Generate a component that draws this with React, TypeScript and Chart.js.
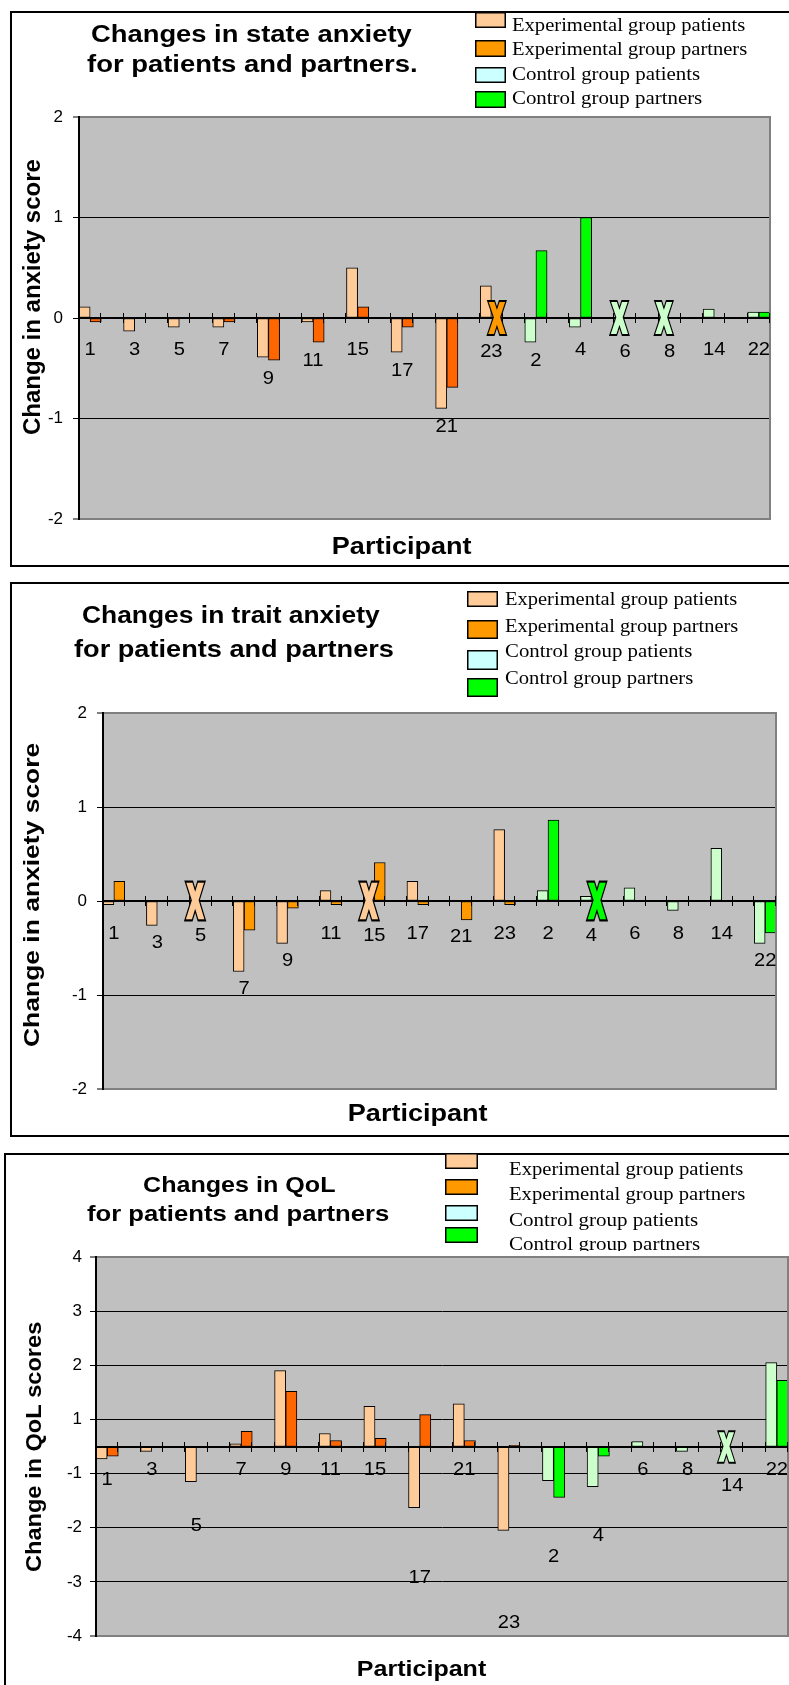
import React, { useEffect, useRef } from "react";
import { Chart, registerables } from "chart.js";

Chart.register(...registerables);

// ---------------- data ----------------
const participants = ["1", "3", "5", "7", "9", "11", "15", "17", "21", "23", "2", "4", "6", "8", "14", "22"];
const participantGroups = [
  "experimental", "experimental", "experimental", "experimental", "experimental",
  "experimental", "experimental", "experimental", "experimental", "experimental",
  "control", "control", "control", "control", "control", "control",
];
const seriesNames = [
  "Experimental group patients",
  "Experimental group partners",
  "Control group patients",
  "Control group partners",
];

// State anxiety
const stateTickValues = [-2, -1, 0, 1, 2];
const stateTickLabels = ["-2", "-1", "0", "1", "2"];
const statePatients = [0.11, -0.13, -0.09, -0.09, -0.39, -0.04, 0.5, -0.34, -0.9, 0.32, -0.24, -0.09, null, null, 0.09, 0.06];
const statePartners = [-0.04, null, null, -0.04, -0.42, -0.24, 0.11, -0.09, -0.69, null, 0.67, 1.0, null, null, null, 0.06];
const stateMissingPatients = ["6", "8"];
const stateMissingPartners = ["23"];

// Trait anxiety
const traitTickValues = [-2, -1, 0, 1, 2];
const traitTickLabels = ["-2", "-1", "0", "1", "2"];
const traitPatients = [-0.04, -0.26, null, -0.75, -0.45, 0.11, null, 0.21, null, 0.76, 0.11, 0.05, 0.14, -0.1, 0.56, -0.45];
const traitPartners = [0.21, null, null, -0.31, -0.075, -0.04, 0.41, -0.04, -0.2, -0.04, 0.86, null, null, null, null, -0.34];
const traitMissingPatients = ["5", "15"];
const traitMissingPartners = ["4"];

// Quality of life
const qolTickValues = [-3.5, -2.5, -1.5, -0.5, 0.5, 1.5, 2.5, 3.5];
const qolTickLabels = ["-4", "-3", "-2", "-1", "1", "2", "3", "4"];
const qolPatients = [-0.23, -0.09, -0.65, 0.05, 1.4, 0.24, 0.74, -1.13, 0.79, -1.55, -0.63, -0.74, 0.09, -0.09, null, 1.55];
const qolPartners = [-0.18, null, null, 0.28, 1.02, 0.11, 0.15, 0.59, 0.11, 0.02, -0.94, -0.18, null, null, null, 1.22];
const qolMissingPatients = ["14"];
const qolMissingPartners: string[] = [];

// ---------------- helpers ----------------
const PAGE_W = 789;
const PAGE_H = 1685;
const Y_AXIS_W = 60;
const SANS = '"Liberation Sans", Arial, sans-serif';
const SERIF = '"Liberation Serif", "Times New Roman", serif';
const LEGEND_FONT = `18.5px ${SERIF}`;
const LABEL_FONT = `18px ${SANS}`;
const LABEL_STRETCH = 1.12;

const COLORS = {
  expPatients: "#FFCC99",
  expPartnersLegend: "#FF9900",
  ctrlPatientsBar: "#CCFFCC",
  ctrlPatientsLegend: "#CCFFFF",
  ctrlPartners: "#00FF00",
  plotBg: "#C0C0C0",
  plotEdge: "#808080",
};
const legendColors = [COLORS.expPatients, COLORS.expPartnersLegend, COLORS.ctrlPatientsLegend, COLORS.ctrlPartners];

const categories: string[] = [];
participants.forEach((p, i) => {
  categories.push(p);
  if (i < participants.length - 1) categories.push("");
});

function seriesFor(values: (number | null)[], group: string) {
  const out: (number | null)[] = categories.map(() => null);
  values.forEach((v, i) => {
    if (participantGroups[i] === group) out[2 * i] = v;
  });
  return out;
}

type TextLine = { text: string; x1: number; x2: number; baseline: number };
type PanelSpec = {
  canvasTop: number;
  canvasHeight: number;
  box: { left: number; top: number; bottom: number | null };
  plot: { left: number; right: number; top: number; bottom: number };
  tickPadding: number;
  min: number;
  max: number;
  tickValues: number[];
  tickLabels: string[];
  patients: (number | null)[];
  partners: (number | null)[];
  missingPatients: string[];
  missingPartners: string[];
  partnerBarColor: string;
  title: { font: string; lines: TextLine[] };
  legend: {
    swatchX: number;
    swatchW: number;
    swatches: [number, number][];
    textX: number;
    ends: number[];
    baselines: number[];
    clipBottom?: number;
  };
  yTitle: { text: string; font: string; baselineX: number; cy: number; length: number };
  xTitle: { font: string; line: TextLine };
  labels: { zeroGap: number; factor: number; barGap: number };
  mark: { height: number; width: number };
};

function fitText(ctx: CanvasRenderingContext2D, text: string, font: string, x1: number, x2: number, baseline: number) {
  ctx.save();
  ctx.font = font;
  ctx.textAlign = "left";
  ctx.textBaseline = "alphabetic";
  ctx.fillStyle = "#000";
  const m = ctx.measureText(text);
  const inkW = m.actualBoundingBoxLeft + m.actualBoundingBoxRight;
  const sx = (x2 - x1) / inkW;
  ctx.translate(x1 + m.actualBoundingBoxLeft * sx, baseline);
  ctx.scale(sx, 1);
  ctx.fillText(text, 0, 0);
  ctx.restore();
}

function verticalText(ctx: CanvasRenderingContext2D, text: string, font: string, baselineX: number, cy: number, length: number) {
  ctx.save();
  ctx.font = font;
  ctx.textAlign = "left";
  ctx.textBaseline = "alphabetic";
  ctx.fillStyle = "#000";
  const m = ctx.measureText(text);
  const inkW = m.actualBoundingBoxLeft + m.actualBoundingBoxRight;
  const sx = length / inkW;
  ctx.translate(baselineX, cy);
  ctx.rotate(-Math.PI / 2);
  ctx.scale(sx, 1);
  ctx.fillText(text, (m.actualBoundingBoxLeft - m.actualBoundingBoxRight) / 2, 0);
  ctx.restore();
}

function drawMark(ctx: CanvasRenderingContext2D, cx: number, cy: number, w: number, h: number, color: string) {
  ctx.save();
  ctx.font = `bold 40px ${SANS}`;
  ctx.textAlign = "left";
  ctx.textBaseline = "alphabetic";
  const m = ctx.measureText("X");
  const inkW = m.actualBoundingBoxLeft + m.actualBoundingBoxRight;
  const inkH = m.actualBoundingBoxAscent + m.actualBoundingBoxDescent;
  const sx = (w - 4) / inkW;
  const sy = (h - 3) / inkH;
  ctx.translate(cx, cy);
  ctx.scale(sx, sy);
  const ox = (m.actualBoundingBoxLeft - m.actualBoundingBoxRight) / 2;
  const oy = (m.actualBoundingBoxAscent - m.actualBoundingBoxDescent) / 2;
  ctx.lineJoin = "miter";
  ctx.strokeStyle = "#000";
  ctx.lineWidth = 8;
  ctx.strokeText("X", ox, oy);
  ctx.strokeStyle = color;
  ctx.lineWidth = 4;
  ctx.strokeText("X", ox, oy);
  ctx.fillStyle = color;
  ctx.fillText("X", ox, oy);
  ctx.restore();
}

function makeDecorPlugin(spec: PanelSpec) {
  const T = spec.canvasTop;
  return {
    id: "panelDecor",
    beforeDraw(chart: any) {
      const { ctx, chartArea: a } = chart;
      ctx.save();
      ctx.fillStyle = "#fff";
      ctx.fillRect(0, 0, chart.width, chart.height);
      ctx.fillStyle = COLORS.plotBg;
      ctx.fillRect(a.left, a.top, a.right - a.left, a.bottom - a.top);
      ctx.restore();
    },
    afterDatasetsDraw(chart: any) {
      const { ctx, chartArea: a } = chart;
      const x = chart.scales.x;
      const y = chart.scales.y;
      ctx.save();
      // plot frame
      ctx.fillStyle = COLORS.plotEdge;
      ctx.fillRect(a.left, a.top - 1, a.right - a.left + 1, 2);
      ctx.fillRect(a.right - 1, a.top - 1, 2, a.bottom - a.top + 2);
      ctx.fillRect(a.left, a.bottom - 1, a.right - a.left + 1, 2);
      ctx.fillStyle = "#000";
      ctx.fillRect(a.left - 1, a.top - 1, 2, a.bottom - a.top + 2);
      // category axis at zero
      const z = Math.round(y.getPixelForValue(0));
      ctx.fillRect(a.left, z - 1, a.right - a.left, 2);
      const catW = (a.right - a.left) / categories.length;
      for (let k = 0; k <= categories.length; k++) {
        const xx = Math.round(a.left + k * catW);
        ctx.fillRect(xx - 1, z - 5, 1, 10);
      }
      // missing-value markers
      const marks: { p: string; slot: number }[] = [
        ...spec.missingPatients.map((p) => ({ p, slot: 0 })),
        ...spec.missingPartners.map((p) => ({ p, slot: 1 })),
      ];
      marks.forEach(({ p, slot }) => {
        const i = participants.indexOf(p);
        const exp = participantGroups[i] === "experimental";
        const color = exp
          ? slot === 0 ? COLORS.expPatients : COLORS.expPartnersLegend
          : slot === 0 ? COLORS.ctrlPatientsBar : COLORS.ctrlPartners;
        const cx = x.getPixelForValue(2 * i) + (slot === 0 ? -catW / 4 : catW / 4);
        drawMark(ctx, cx, z, spec.mark.width, spec.mark.height, color);
      });
      // participant labels
      ctx.font = LABEL_FONT;
      const capH = ctx.measureText("0").actualBoundingBoxAscent;
      participants.forEach((p, i) => {
        const vals = [spec.patients[i], spec.partners[i]].filter((v) => v !== null) as number[];
        const minV = Math.min(0, ...vals);
        let depth = y.getPixelForValue(minV) - z;
        if (spec.missingPatients.includes(p) || spec.missingPartners.includes(p)) {
          depth = Math.max(depth, spec.mark.height / 2);
        }
        const cy = z + Math.max(spec.labels.zeroGap, spec.labels.factor * depth + spec.labels.barGap);
        const cx = x.getPixelForValue(2 * i);
        ctx.save();
        ctx.font = LABEL_FONT;
        ctx.fillStyle = "#000";
        ctx.textAlign = "center";
        ctx.textBaseline = "alphabetic";
        ctx.translate(cx, cy + capH / 2);
        ctx.scale(LABEL_STRETCH, 1);
        ctx.fillText(p, 0, 0);
        ctx.restore();
      });
      ctx.restore();
    },
    afterDraw(chart: any) {
      const ctx = chart.ctx as CanvasRenderingContext2D;
      ctx.save();
      ctx.translate(0, -T);
      // panel frame
      ctx.fillStyle = "#000";
      const b = spec.box;
      const bottom = b.bottom ?? T + spec.canvasHeight + 10;
      ctx.fillRect(b.left, b.top, PAGE_W, 2);
      ctx.fillRect(b.left, b.top, 2, bottom - b.top + 2);
      if (b.bottom !== null) ctx.fillRect(b.left, b.bottom, PAGE_W, 2);
      // title
      spec.title.lines.forEach((l) => fitText(ctx, l.text, spec.title.font, l.x1, l.x2, l.baseline));
      // legend
      const lg = spec.legend;
      seriesNames.forEach((name, k) => {
        const [sy, sh] = lg.swatches[k];
        ctx.fillStyle = legendColors[k];
        ctx.fillRect(lg.swatchX, sy, lg.swatchW, sh);
        ctx.strokeStyle = "#000";
        ctx.lineWidth = 1.5;
        ctx.strokeRect(lg.swatchX + 0.75, sy + 0.75, lg.swatchW - 1.5, sh - 1.5);
        ctx.save();
        if (lg.clipBottom) {
          ctx.beginPath();
          ctx.rect(0, 0, PAGE_W, lg.clipBottom);
          ctx.clip();
        }
        fitText(ctx, name, LEGEND_FONT, lg.textX, lg.ends[k], lg.baselines[k]);
        ctx.restore();
      });
      // axis titles
      verticalText(ctx, spec.yTitle.text, spec.yTitle.font, spec.yTitle.baselineX, spec.yTitle.cy, spec.yTitle.length);
      const xl = spec.xTitle.line;
      fitText(ctx, xl.text, spec.xTitle.font, xl.x1, xl.x2, xl.baseline);
      ctx.restore();
    },
  };
}

function buildChart(canvas: HTMLCanvasElement, spec: PanelSpec) {
  const common = {
    borderColor: "#000",
    borderWidth: 1,
    borderSkipped: false,
    categoryPercentage: 1,
    barPercentage: 1,
  };
  return new Chart(canvas, {
    type: "bar",
    data: {
      labels: categories,
      datasets: [
        { ...common, label: seriesNames[0], data: seriesFor(spec.patients, "experimental"), backgroundColor: COLORS.expPatients, stack: "patients" },
        { ...common, label: seriesNames[1], data: seriesFor(spec.partners, "experimental"), backgroundColor: spec.partnerBarColor, stack: "partners" },
        { ...common, label: seriesNames[2], data: seriesFor(spec.patients, "control"), backgroundColor: COLORS.ctrlPatientsBar, stack: "patients" },
        { ...common, label: seriesNames[3], data: seriesFor(spec.partners, "control"), backgroundColor: COLORS.ctrlPartners, stack: "partners" },
      ] as any,
    },
    options: {
      responsive: false,
      maintainAspectRatio: false,
      animation: false,
      devicePixelRatio: 1,
      layout: {
        padding: {
          left: spec.plot.left - Y_AXIS_W,
          right: PAGE_W - spec.plot.right,
          top: spec.plot.top - spec.canvasTop,
          bottom: spec.canvasTop + spec.canvasHeight - spec.plot.bottom,
        },
      },
      plugins: {
        legend: { display: false },
        title: { display: false },
        tooltip: { enabled: false },
      },
      scales: {
        x: { display: false, stacked: true },
        y: {
          stacked: true,
          min: spec.min,
          max: spec.max,
          afterBuildTicks: (s: any) => {
            s.ticks = spec.tickValues.map((v) => ({ value: v }));
          },
          afterFit: (s: any) => {
            s.width = Y_AXIS_W;
          },
          ticks: {
            autoSkip: false,
            color: "#000",
            padding: spec.tickPadding,
            font: { family: SANS, size: 17 },
            callback: (_v: any, i: number) => spec.tickLabels[i],
          },
          grid: {
            color: (c: any) =>
              c.tick && (c.tick.value === spec.min || c.tick.value === spec.max) ? COLORS.plotEdge : "#000",
            lineWidth: (c: any) =>
              c.tick && (c.tick.value === spec.min || c.tick.value === spec.max) ? 2 : 1,
            tickLength: 6,
            tickColor: "#000",
            tickWidth: 1,
            drawTicks: true,
          },
          border: { display: true, color: "#000", width: 2 },
        },
      },
    } as any,
    plugins: [makeDecorPlugin(spec)],
  });
}

const TITLE_FONT_L = `bold 23px ${SANS}`;
const TITLE_FONT_M = `bold 22px ${SANS}`;

const specs: PanelSpec[] = [
  {
    canvasTop: 0,
    canvasHeight: 575,
    box: { left: 10, top: 11, bottom: 565 },
    plot: { left: 79, right: 770, top: 117, bottom: 519 },
    tickPadding: 10,
    min: -2,
    max: 2,
    tickValues: stateTickValues,
    tickLabels: stateTickLabels,
    patients: statePatients,
    partners: statePartners,
    missingPatients: stateMissingPatients,
    missingPartners: stateMissingPartners,
    partnerBarColor: "#FF6600",
    title: {
      font: TITLE_FONT_L,
      lines: [
        { text: "Changes in state anxiety", x1: 91, x2: 412, baseline: 42 },
        { text: "for patients and partners.", x1: 87, x2: 416, baseline: 72 },
      ],
    },
    legend: {
      swatchX: 475,
      swatchW: 31,
      swatches: [[12, 16], [40, 17], [67, 16], [91, 17]],
      textX: 512,
      ends: [745, 747, 700, 702],
      baselines: [31, 55, 80, 104],
    },
    yTitle: { text: "Change in anxiety score", font: TITLE_FONT_L, baselineX: 39.5, cy: 297.5, length: 275 },
    xTitle: { font: TITLE_FONT_L, line: { text: "Participant", x1: 333, x2: 472, baseline: 554 } },
    labels: { zeroGap: 30, factor: 1, barGap: 17 },
    mark: { height: 31, width: 18 },
  },
  {
    canvasTop: 575,
    canvasHeight: 570,
    box: { left: 10, top: 582, bottom: 1135 },
    plot: { left: 103, right: 776, top: 713, bottom: 1089 },
    tickPadding: 10,
    min: -2,
    max: 2,
    tickValues: traitTickValues,
    tickLabels: traitTickLabels,
    patients: traitPatients,
    partners: traitPartners,
    missingPatients: traitMissingPatients,
    missingPartners: traitMissingPartners,
    partnerBarColor: "#FF9900",
    title: {
      font: TITLE_FONT_L,
      lines: [
        { text: "Changes in trait anxiety", x1: 82, x2: 380, baseline: 623 },
        { text: "for patients and partners", x1: 74, x2: 393, baseline: 657 },
      ],
    },
    legend: {
      swatchX: 467,
      swatchW: 31,
      swatches: [[591, 16], [620, 19], [650, 20], [678, 19]],
      textX: 505,
      ends: [737, 738, 692, 693],
      baselines: [605, 632, 657, 684],
    },
    yTitle: { text: "Change in anxiety score", font: TITLE_FONT_M, baselineX: 38.75, cy: 895, length: 304 },
    xTitle: { font: TITLE_FONT_L, line: { text: "Participant", x1: 349, x2: 488, baseline: 1121 } },
    labels: { zeroGap: 31, factor: 1, barGap: 16 },
    mark: { height: 35, width: 19 },
  },
  {
    canvasTop: 1145,
    canvasHeight: 540,
    box: { left: 4, top: 1153, bottom: null },
    plot: { left: 96, right: 788, top: 1257, bottom: 1636 },
    tickPadding: 8,
    min: -3.5,
    max: 3.5,
    tickValues: qolTickValues,
    tickLabels: qolTickLabels,
    patients: qolPatients,
    partners: qolPartners,
    missingPatients: qolMissingPatients,
    missingPartners: qolMissingPartners,
    partnerBarColor: "#FF6600",
    title: {
      font: TITLE_FONT_M,
      lines: [
        { text: "Changes in QoL", x1: 143, x2: 335, baseline: 1192 },
        { text: "for patients and partners", x1: 87, x2: 389, baseline: 1221 },
      ],
    },
    legend: {
      swatchX: 445,
      swatchW: 33,
      swatches: [[1153, 16], [1179, 16], [1205, 16], [1227, 16]],
      textX: 509,
      ends: [743, 745, 698, 700],
      baselines: [1175, 1200, 1226, 1250],
      clipBottom: 1251,
    },
    yTitle: { text: "Change in QoL scores", font: TITLE_FONT_M, baselineX: 40.75, cy: 1447, length: 250 },
    xTitle: { font: TITLE_FONT_M, line: { text: "Participant", x1: 358, x2: 487, baseline: 1676 } },
    labels: { zeroGap: 21, factor: 2, barGap: 8 },
    mark: { height: 29, width: 17 },
  },
];

function Panel({ spec }: { spec: PanelSpec }) {
  const ref = useRef<HTMLCanvasElement>(null);
  useEffect(() => {
    if (!ref.current) return;
    const chart = buildChart(ref.current, spec);
    return () => chart.destroy();
  }, [spec]);
  return (
    <canvas
      ref={ref}
      width={PAGE_W}
      height={spec.canvasHeight}
      style={{ position: "absolute", left: 0, top: spec.canvasTop, width: PAGE_W, height: spec.canvasHeight, display: "block" }}
    />
  );
}

export default function App() {
  return (
    <div
      style={{
        position: "absolute",
        left: 0,
        top: 0,
        width: PAGE_W,
        height: PAGE_H,
        overflow: "hidden",
        background: "#fff",
      }}
    >
      {specs.map((s, i) => (
        <Panel key={i} spec={s} />
      ))}
    </div>
  );
}
